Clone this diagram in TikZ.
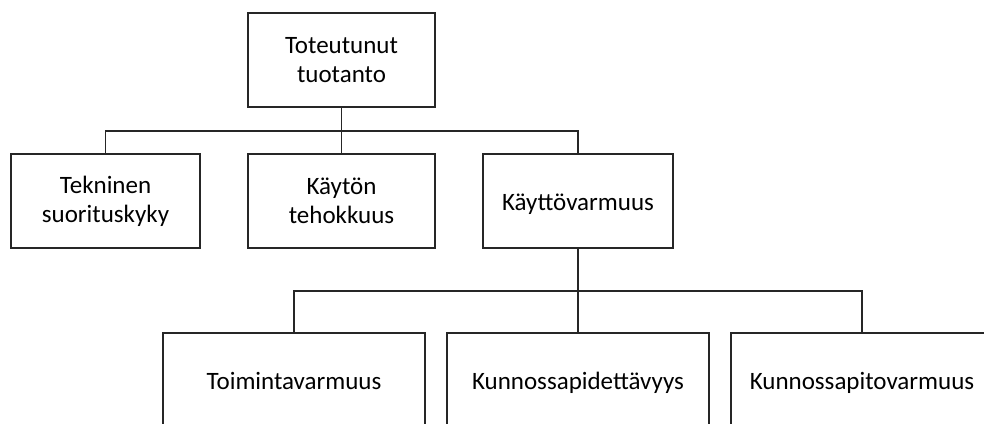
\documentclass[tikz,border=0pt]{standalone}
\usepackage{fontspec}
\setmainfont{Carlito}
\begin{document}
\begin{tikzpicture}[x=1pt,y=1pt,
  box/.style={draw=black!85, line width=1.9pt, fill=white, align=center,
    inner sep=0pt, font=\fontsize{25}{29}\selectfont},
  oneline/.style={text height=20pt, text depth=2pt},
  link/.style={draw=black!85, line width=1.9pt}]
\useasboundingbox (0,0) rectangle (984,-423);
\clip (0,0) rectangle (984,-423);
% levels of the hierarchy
\node[box, minimum width=187, minimum height=94] (top) at (341.5,-60) {Toteutunut\\tuotanto};
\node[box, minimum width=189, minimum height=94] (tek) at (105.5,-201) {Tekninen\\suorituskyky};
\node[box, minimum width=187, minimum height=94] (kay) at (341.5,-201) {Käytön\\tehokkuus};
\node[box, oneline, minimum width=190, minimum height=94] (kv) at (578,-201) {Käyttövarmuus};
\node[box, oneline, minimum width=262, minimum height=94] (toi) at (294,-380) {Toimintavarmuus};
\node[box, oneline, minimum width=262, minimum height=94] (kpd) at (578,-380) {Kunnossapidettävyys};
\node[box, oneline, minimum width=262, minimum height=94] (kpv) at (862,-380) {Kunnossapitovarmuus};
% bus lines
\coordinate (bus1) at (0,-131);
\coordinate (bus2) at (0,-291);
\draw[link] (top.south) -- (kay.north);
\draw[link] (tek.north) |- (kv.north |- bus1) -- (kv.north);
\draw[link] (kv.south) -- (kpd.north);
\draw[link] (toi.north) |- (kpv.north |- bus2) -- (kpv.north);
\end{tikzpicture}
\end{document}
